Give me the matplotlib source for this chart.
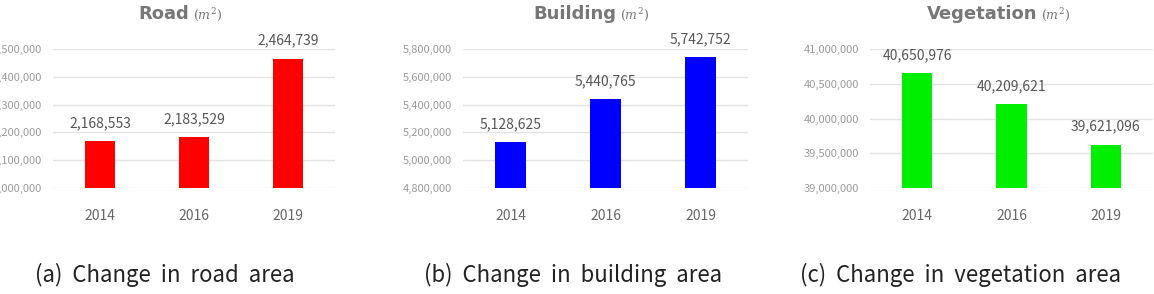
import matplotlib.pyplot as plt
from matplotlib.ticker import FuncFormatter

# data
years = ['2014', '2016', '2019']
road = [2168553, 2183529, 2464739]
building = [5128625, 5440765, 5742752]
vegetation = [40650976, 40209621, 39621096]

titles = ['Road', 'Building', 'Vegetation']
captions = ['(a)  Change  in  road  area',
            '(b)  Change  in  building  area',
            '(c)  Change  in  vegetation  area']
colors = ['#ff0000', '#0000ff', '#00ee00']
ylims = [(2000000, 2500000), (4800000, 5800000), (39000000, 41000000)]
ysteps = [100000, 200000, 500000]

plt.rcParams['font.family'] = ['Liberation Sans Narrow', 'Noto Sans CJK KR', 'DejaVu Sans']
plt.rcParams['mathtext.fontset'] = 'dejavuserif'

fig = plt.figure(figsize=(11.54, 2.94), dpi=100)

# axes boxes in figure fractions
boxes = [(0.0459, 0.3605, 0.2444, 0.4728),
         (0.4012, 0.3605, 0.2470, 0.4728),
         (0.7539, 0.3605, 0.2452, 0.4728)]
title_x = [0.142, 0.498, 0.851]
caption_x = [0.143, 0.497, 0.832]

for i, vals in enumerate([road, building, vegetation]):
    ax = fig.add_axes(boxes[i])
    ax.bar(range(3), vals, width=0.32, color=colors[i], zorder=3)
    lo, hi = ylims[i]
    ax.set_ylim(lo, hi)
    ax.set_xlim(-0.5, 2.5)
    ax.set_yticks(range(lo, hi + 1, ysteps[i]))
    ax.yaxis.set_major_formatter(FuncFormatter(lambda v, p: f'{int(v):,}'))
    ax.set_xticks(range(3))
    ax.set_xticklabels(years)
    ax.grid(axis='y', color='#e3e3e3', linewidth=1, zorder=0)
    for s in ax.spines.values():
        s.set_visible(False)
    ax.tick_params(axis='y', length=0, pad=8, labelsize=8, labelcolor='#9a9a9a')
    ax.tick_params(axis='x', length=0, pad=15, labelsize=10, labelcolor='#666666')
    for x, v in enumerate(vals):
        ax.annotate(f'{v:,}', xy=(x, v), xytext=(0, 8), textcoords='offset points',
                    ha='center', va='bottom', fontsize=10, color='#555555')

    t = fig.text(title_x[i], 0.952, titles[i], ha='center', va='center',
                 fontsize=13, fontweight='bold', color='#777777',
                 family=['DejaVu Sans'])
    ax.annotate(r'$(m^2)$', xy=(1, 0.5), xycoords=t, xytext=(3, 0),
                textcoords='offset points', ha='left', va='center',
                fontsize=9, color='#777777')

    fig.text(caption_x[i], 0.065, captions[i], ha='center', va='center',
             fontsize=16, color='#222222', family=['Noto Sans CJK KR', 'DejaVu Sans'])

fig.savefig('out.png', dpi=100)
